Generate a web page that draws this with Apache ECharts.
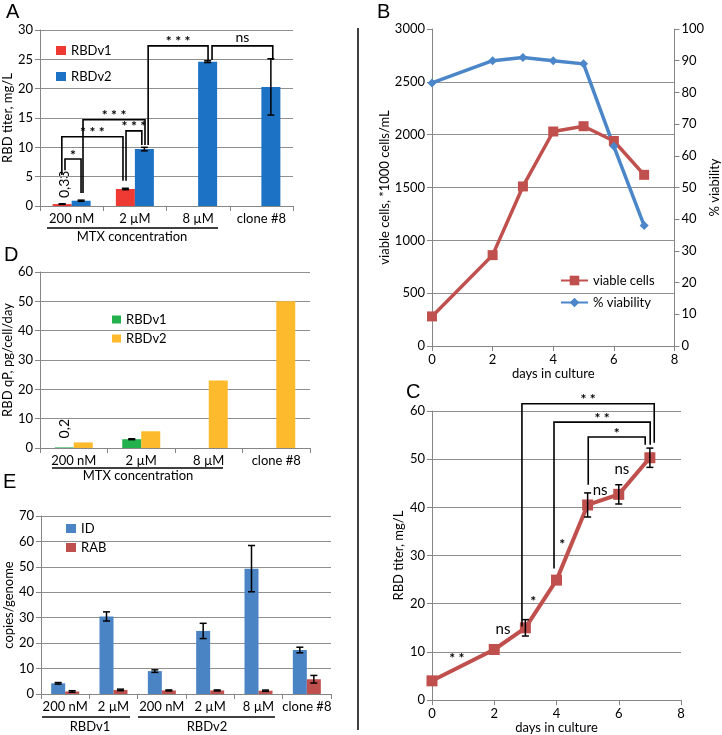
<!DOCTYPE html>
<html><head><meta charset="utf-8">
<script src="https://cdn.jsdelivr.net/npm/echarts@6/dist/echarts.min.js"></script>
<style>html,body{margin:0;padding:0;background:#fff}#c{width:722px;height:735px}</style>
</head><body><div id="c"></div><script>
// ---------- DATA ----------
const A_categories = ['200 nM', '2 µM', '8 µM', 'clone #8'];
const A_RBDv1 = [0.33, 2.9, null, null];
const A_RBDv1_err = [0.05, 0.12, null, null];
const A_RBDv1_labels = ['0,33', null, null, null];
const A_RBDv2 = [0.9, 9.7, 24.6, 20.3];
const A_RBDv2_err = [0.1, 0.3, 0.15, 4.8];
const A_yTicks = [0, 30, 5];

const B_days = [0, 2, 3, 4, 5, 6, 7];
const B_viableCells = [280, 860, 1510, 2030, 2080, 1940, 1620];
const B_viability = [83, 90, 91, 90, 89, 63, 38];

const C_days = [0, 2, 3, 4, 5, 6, 7];
const C_titer = [4.0, 10.5, 15.0, 24.9, 40.5, 42.7, 50.3];
const C_titer_err = [0, 0, 1.7, 0, 2.5, 2.0, 2.0];

const D_categories = ['200 nM', '2 µM', '8 µM', 'clone #8'];
const D_RBDv1 = [0.2, 3.0, null, null];
const D_RBDv1_err = [null, 0.15, null, null];
const D_RBDv1_labels = ['0,2', null, null, null];
const D_RBDv2 = [1.9, 5.7, 23, 50];

const E_categories = ['200 nM', '2 µM', '200 nM', '2 µM', '8 µM', 'clone #8'];
const E_ID = [4.2, 30.5, 9.0, 24.8, 49.3, 17.3];
const E_ID_err = [0.3, 1.8, 0.5, 3.0, 9.1, 1.1];
const E_RAB = [1.0, 1.6, 1.4, 1.4, 1.3, 5.8];
const E_RAB_err = [0.3, 0.3, 0.2, 0.2, 0.25, 1.5];

// significance annotations (data coordinates)
// [cat1, fracOfBand1, yStart1, cat2, fracOfBand2, yStart2, yTop, label]
const A_sigBrackets = [
  [0, -0.105, 6.1, 0, 0.149, 2.2, 8.0, '*'],
  [0, -0.155, 5.3, 1, -0.188, 4.3, 11.8, '* * *'],
  [0, 0.18, 2.2, 1, 0.16, 10.4, 14.7, '* * *'],
  [1, -0.14, 4.3, 1, 0.11, 10.4, 12.8, '* * *'],
  [1, 0.21, 10.4, 2, 0.157, 24.9, 27.3, '* * *'],
  [2, 0.22, 24.9, 3, 0.18, 24.9, 27.3, 'ns']
];
// [x1, yStart1, x2, yStart2, yTop, label]
const C_sigBrackets = [
  [2.89, 15.3, 7.14, 53.4, 61.5, '* *'],
  [3.92, 27.3, 7.01, 53.0, 57.7, '* *'],
  [5.02, 44.7, 6.85, 53.0, 54.6, '*']
];
// [x, y, label]
const C_notes = [
  [0.8, 9.3, '* *'], [2.28, 14.7, 'ns'], [3.25, 21, '*'],
  [4.18, 33, '*'], [5.4, 43.5, 'ns'], [6.1, 48, 'ns']
];

// ---------- STYLE ----------
const FONT = 'Lato, "Open Sans", sans-serif';
const AXIS_C = '#868686';
const GRID_C = '#8f8f8f';
const A_RED = '#EE3A33', A_BLUE = '#1C72C4';
const D_GREEN = '#22B14C', D_ORANGE = '#FDBA2C';
const E_BLUE = '#4A84C4', E_RED = '#C0504D';
const L_RED = '#C0504D', L_BLUE = '#4A86C8';

function catAxis(gridIndex, data) {
  return {
    type: 'category', gridIndex, data, boundaryGap: true,
    axisLine: {show: true, lineStyle: {color: AXIS_C, width: 1}},
    axisTick: {show: true, length: 5, lineStyle: {color: AXIS_C}},
    axisLabel: {color: '#000', fontSize: 13, fontFamily: FONT, margin: 6, interval: 0},
    splitLine: {show: false}
  };
}
function valAxis(gridIndex, min, max, interval, extra) {
  return Object.assign({
    type: 'value', gridIndex, min, max, interval,
    axisLine: {show: true, lineStyle: {color: AXIS_C, width: 1}},
    axisTick: {show: true, length: 5, lineStyle: {color: AXIS_C}},
    axisLabel: {color: '#000', fontSize: 13, fontFamily: FONT, margin: 7, formatter: v => String(v)},
    splitLine: {show: true, lineStyle: {color: GRID_C, width: 1}},
    nameTextStyle: {color: '#000', fontSize: 13, fontFamily: FONT},
    nameLocation: 'middle', nameRotate: 90
  }, extra || {});
}

function errorBars(xi, yi, vals, errs, offsetPx, cap) {
  const data = [];
  vals.forEach((v, i) => {
    if (v != null && errs[i] != null && errs[i] > 0) data.push([i, v - errs[i], v + errs[i]]);
  });
  return {
    type: 'custom', xAxisIndex: xi, yAxisIndex: yi, clip: false, z: 6, silent: true,
    encode: {x: 0, y: [1, 2]}, data,
    renderItem(params, api) {
      const lo = api.coord([api.value(0), api.value(1)]);
      const hi = api.coord([api.value(0), api.value(2)]);
      const cx = lo[0] + offsetPx;
      const st = {stroke: '#000', lineWidth: 1.5};
      return {type: 'group', children: [
        {type: 'line', shape: {x1: cx, y1: lo[1], x2: cx, y2: hi[1]}, style: st},
        {type: 'line', shape: {x1: cx - cap, y1: lo[1], x2: cx + cap, y2: lo[1]}, style: st},
        {type: 'line', shape: {x1: cx - cap, y1: hi[1], x2: cx + cap, y2: hi[1]}, style: st}
      ]};
    }
  };
}
function errorBarsXY(xi, yi, xs, vals, errs) {
  const data = [];
  vals.forEach((v, i) => { if (errs[i] > 0) data.push([xs[i], v - errs[i], v + errs[i]]); });
  const s = errorBars(xi, yi, [], [], 0, 3.5);
  s.data = data;
  return s;
}

function bracketPath(p1, p2, top, label, fs) {
  const isNs = label === 'ns';
  return {type: 'group', children: [
    {type: 'polyline', shape: {points: [[p1[0], p1[1]], [p1[0], top], [p2[0], top], [p2[0], p2[1]]]},
     style: {stroke: '#000', lineWidth: 1.6, fill: null}},
    {type: 'text', x: (p1[0] + p2[0]) / 2, y: top - (isNs ? 1 : -3),
     style: {text: label, fontSize: fs, fontFamily: FONT, fontWeight: isNs ? 'normal' : 'bold',
              fill: '#000', align: 'center', verticalAlign: 'bottom'}}
  ]};
}

const catBracketSeries = {
  type: 'custom', xAxisIndex: 0, yAxisIndex: 0, clip: false, z: 7, silent: true,
  encode: {x: 0, y: 1},
  data: A_sigBrackets.map(b => [b[0], b[2]]),
  renderItem(params, api) {
    const b = A_sigBrackets[params.dataIndex];
    const bw = api.size([1, 0])[0];
    const p1 = api.coord([b[0], b[2]]); p1[0] += b[1] * bw;
    const p2 = api.coord([b[3], b[5]]); p2[0] += b[4] * bw;
    const top = api.coord([b[0], b[6]])[1];
    return bracketPath(p1, p2, top, b[7], 14);
  }
};
const cBracketSeries = {
  type: 'custom', xAxisIndex: 2, yAxisIndex: 3, clip: false, z: 7, silent: true,
  encode: {x: 0, y: 1},
  data: C_sigBrackets.map(b => [b[0], b[1]]),
  renderItem(params, api) {
    const b = C_sigBrackets[params.dataIndex];
    const p1 = api.coord([b[0], b[1]]);
    const p2 = api.coord([b[2], b[3]]);
    const top = api.coord([b[0], b[4]])[1];
    return bracketPath(p1, p2, top, b[5], 14);
  }
};
const cNoteSeries = {
  type: 'custom', xAxisIndex: 2, yAxisIndex: 3, clip: false, z: 7, silent: true,
  encode: {x: 0, y: 1},
  data: C_notes.map(n => [n[0], n[1]]),
  renderItem(params, api) {
    const n = C_notes[params.dataIndex];
    const isNs = n[2] === 'ns';
    const p = api.coord([n[0], n[1]]);
    return {type: 'text', x: p[0], y: p[1] + (isNs ? 0 : 3),
      style: {text: n[2], fontSize: isNs ? 15 : 14, fontFamily: FONT, fontWeight: isNs ? 'normal' : 'bold',
              fill: '#000', align: 'center', verticalAlign: 'middle'}};
  }
};

const A_BW = 19, D_BW = 19, E_BW = 14;
const legendText = {color: '#000', fontSize: 13, fontFamily: FONT};
const LETTER_FONT = '"Liberation Sans", Arial, sans-serif';

const baseGraphics = [
  // panel letters
  {type: 'text', left: 6, top: 2, style: {text: 'A', fontSize: 20, fontFamily: LETTER_FONT, fill: '#000'}},
  {type: 'text', left: 377, top: 2, style: {text: 'B', fontSize: 20, fontFamily: LETTER_FONT, fill: '#000'}},
  {type: 'text', left: 406, top: 382, style: {text: 'C', fontSize: 20, fontFamily: LETTER_FONT, fill: '#000'}},
  {type: 'text', left: 4, top: 245, style: {text: 'D', fontSize: 20, fontFamily: LETTER_FONT, fill: '#000'}},
  {type: 'text', left: 3, top: 472, style: {text: 'E', fontSize: 20, fontFamily: LETTER_FONT, fill: '#000'}},
  // separator
  {type: 'line', shape: {x1: 358, y1: 28, x2: 358, y2: 730}, style: {stroke: '#000', lineWidth: 1.5}},
  // group underlines / captions
  {type: 'line', shape: {x1: 47, y1: 228, x2: 218, y2: 228}, style: {stroke: '#000', lineWidth: 1.5}},
  {type: 'text', x: 132, y: 237, style: {text: 'MTX concentration', fontSize: 13, fontFamily: FONT, fill: '#000', align: 'center', verticalAlign: 'middle'}},
  {type: 'line', shape: {x1: 52, y1: 468, x2: 223, y2: 468}, style: {stroke: '#000', lineWidth: 1.5}},
  {type: 'text', x: 138, y: 476, style: {text: 'MTX concentration', fontSize: 13, fontFamily: FONT, fill: '#000', align: 'center', verticalAlign: 'middle'}},
  {type: 'line', shape: {x1: 42, y1: 717, x2: 130, y2: 717}, style: {stroke: '#000', lineWidth: 1.5}},
  {type: 'line', shape: {x1: 138, y1: 717, x2: 275, y2: 717}, style: {stroke: '#000', lineWidth: 1.5}},
  {type: 'text', x: 90, y: 727, style: {text: 'RBDv1', fontSize: 13, fontFamily: FONT, fill: '#000', align: 'center', verticalAlign: 'middle'}},
  {type: 'text', x: 207, y: 727, style: {text: 'RBDv2', fontSize: 13, fontFamily: FONT, fill: '#000', align: 'center', verticalAlign: 'middle'}}
];

const option = {
  animation: false,
  backgroundColor: '#fff',
  grid: [
    {left: 40, top: 30, width: 253, height: 176},
    {left: 432, top: 29, width: 244, height: 317},
    {left: 432, top: 411, width: 249, height: 290},
    {left: 40, top: 272, width: 270, height: 176},
    {left: 41, top: 516, width: 290, height: 178}
  ],
  xAxis: [
    catAxis(0, A_categories),
    valAxis(1, 0, 8, 2, {splitLine: {show: false}, nameRotate: 0, name: 'days in culture', nameGap: 19}),
    valAxis(2, 0, 8, 2, {splitLine: {show: false}, nameRotate: 0, name: 'days in culture', nameGap: 17}),
    catAxis(3, D_categories),
    catAxis(4, E_categories)
  ],
  yAxis: [
    valAxis(0, A_yTicks[0], A_yTicks[1], A_yTicks[2], {name: 'RBD titer, mg/L', nameGap: 23}),
    valAxis(1, 0, 3000, 500, {name: 'viable cells, *1000 cells/mL', nameGap: 40,
      splitLine: {show: true, showMaxLine: false, lineStyle: {color: GRID_C, width: 1}}}),
    valAxis(1, 0, 100, 10, {position: 'right', name: '% viability', nameGap: 30, splitLine: {show: false}}),
    valAxis(2, 0, 60, 10, {name: 'RBD titer, mg/L', nameGap: 27}),
    valAxis(3, 0, 60, 10, {name: 'RBD qP, pg/cell/day', nameGap: 23}),
    valAxis(4, 0, 70, 10, {name: 'copies/genome', nameGap: 24})
  ],
  legend: [
    {data: ['RBDv1', 'RBDv2'], orient: 'vertical', left: 56, top: 44, itemWidth: 10, itemHeight: 9,
     itemGap: 13, icon: 'rect', padding: 0, textStyle: legendText},
    {data: ['viable cells', '% viability'], orient: 'vertical', left: 560, top: 274, itemWidth: 27,
     itemHeight: 12, itemGap: 9, padding: 0, textStyle: legendText},
    {data: ['RBDv1 ', 'RBDv2 '], orient: 'vertical', left: 112, top: 313, itemWidth: 9, itemHeight: 8,
     itemGap: 6, icon: 'rect', padding: 0, textStyle: legendText},
    {data: ['ID', 'RAB'], orient: 'vertical', left: 66, top: 522, itemWidth: 10, itemHeight: 9,
     itemGap: 6, icon: 'rect', padding: 0, textStyle: legendText}
  ],
  series: [
    // A
    {name: 'RBDv1', type: 'bar', xAxisIndex: 0, yAxisIndex: 0, barWidth: A_BW, barGap: '0%',
     itemStyle: {color: A_RED}, data: A_RBDv1},
    {name: 'RBDv2', type: 'bar', xAxisIndex: 0, yAxisIndex: 0, barWidth: A_BW, barGap: '0%',
     itemStyle: {color: A_BLUE}, data: A_RBDv2},
    errorBars(0, 0, A_RBDv1, A_RBDv1_err, -A_BW / 2, 3.5),
    errorBars(0, 0, A_RBDv2, A_RBDv2_err, A_BW / 2, 3.5),
    catBracketSeries,
    // B
    {name: 'viable cells', type: 'line', xAxisIndex: 1, yAxisIndex: 1,
     data: B_days.map((d, i) => [d, B_viableCells[i]]), symbol: 'rect', symbolSize: 10,
     lineStyle: {color: L_RED, width: 3.5}, itemStyle: {color: L_RED}},
    {name: '% viability', type: 'line', xAxisIndex: 1, yAxisIndex: 2,
     data: B_days.map((d, i) => [d, B_viability[i]]), symbol: 'diamond', symbolSize: 9,
     lineStyle: {color: L_BLUE, width: 3.5}, itemStyle: {color: L_BLUE}},
    // C
    {name: 'C titer', type: 'line', xAxisIndex: 2, yAxisIndex: 3,
     data: C_days.map((d, i) => [d, C_titer[i]]), symbol: 'rect', symbolSize: 11,
     lineStyle: {color: L_RED, width: 4}, itemStyle: {color: L_RED}},
    errorBarsXY(2, 3, C_days, C_titer, C_titer_err),
    cBracketSeries,
    cNoteSeries,
    // D
    {name: 'RBDv1 ', type: 'bar', xAxisIndex: 3, yAxisIndex: 4, barWidth: D_BW, barGap: '0%',
     itemStyle: {color: D_GREEN}, data: D_RBDv1},
    {name: 'RBDv2 ', type: 'bar', xAxisIndex: 3, yAxisIndex: 4, barWidth: D_BW, barGap: '0%',
     itemStyle: {color: D_ORANGE}, data: D_RBDv2},
    errorBars(3, 4, D_RBDv1, D_RBDv1_err, -D_BW / 2, 3.5),
    // E
    {name: 'ID', type: 'bar', xAxisIndex: 4, yAxisIndex: 5, barWidth: E_BW, barGap: '0%',
     itemStyle: {color: E_BLUE}, data: E_ID},
    {name: 'RAB', type: 'bar', xAxisIndex: 4, yAxisIndex: 5, barWidth: E_BW, barGap: '0%',
     itemStyle: {color: E_RED}, data: E_RAB},
    errorBars(4, 5, E_ID, E_ID_err, -E_BW / 2, 3.5),
    errorBars(4, 5, E_RAB, E_RAB_err, E_BW / 2, 3.5)
  ],
  graphic: baseGraphics
};

const chart = echarts.init(document.getElementById('c'), null, {renderer: 'canvas'});
chart.setOption(option);

// rotated value labels placed through the axes' own scales
function rotatedLabelGraphics(xi, yi, vals, labels, offsetPx, gap) {
  const out = [];
  vals.forEach((v, i) => {
    if (!labels[i]) return;
    const p = chart.convertToPixel({xAxisIndex: xi, yAxisIndex: yi}, [i, v]);
    out.push({type: 'text', x: p[0] + offsetPx, y: p[1] - gap, rotation: Math.PI / 2,
      style: {text: labels[i], fontSize: 14, fontFamily: FONT, fill: '#000',
              align: 'left', verticalAlign: 'middle'}});
  });
  return out;
}
chart.setOption({graphic: baseGraphics
  .concat(rotatedLabelGraphics(0, 0, A_RBDv1, A_RBDv1_labels, -A_BW / 2 + 2, 6))
  .concat(rotatedLabelGraphics(3, 4, D_RBDv1, D_RBDv1_labels, -D_BW / 2, 9))});
</script></body></html>
